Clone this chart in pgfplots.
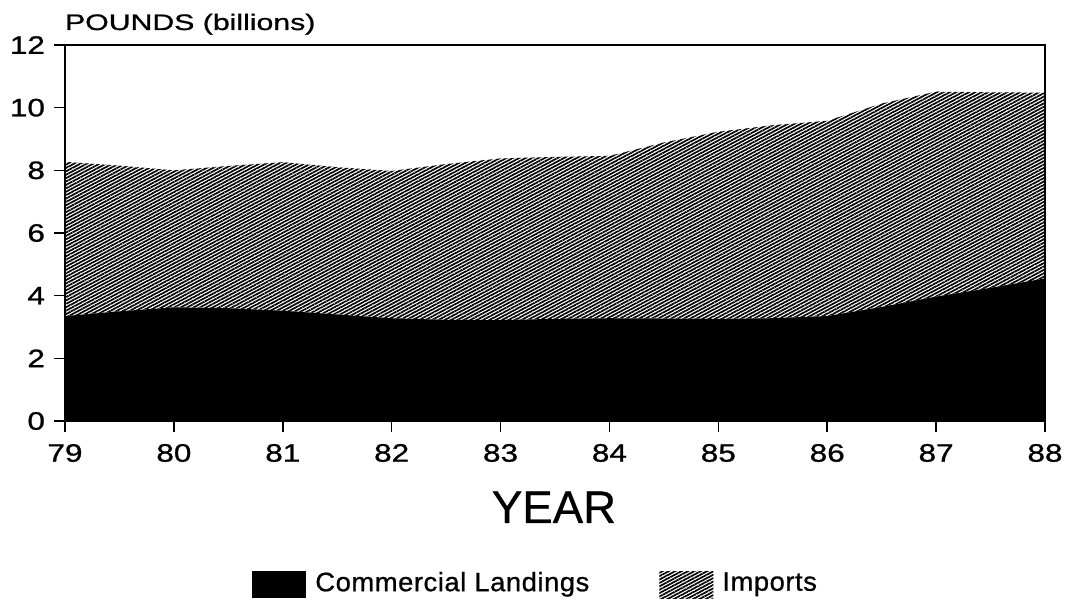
\documentclass[border=0pt]{standalone}
\usepackage{fontspec}
\setmainfont{Liberation Sans}
\newfontfamily\widefont{Liberation Sans}[FakeStretch=1.35, FakeBold=1]
\newfontfamily\tickfont{Liberation Sans}[FakeStretch=1.25, FakeBold=1]
\newfontfamily\legfont{Liberation Sans}[FakeStretch=1.03, FakeBold=0.8, LetterSpace=2]
\newfontfamily\titlefont{Liberation Sans}[FakeBold=0.6]
\usepackage{pgfplots}
\pgfplotsset{compat=1.18}
\usetikzlibrary{patterns.meta}

\pgfplotstableread{
year landings imports
79   3.35 4.92
79.5 3.50 4.65
80   3.63 4.37
80.5 3.60 4.54
81   3.52 4.74
81.5 3.40 4.70
82   3.28 4.70
82.5 3.23 4.97
83   3.22 5.16
83.5 3.26 5.17
84   3.28 5.18
84.5 3.27 5.62
85   3.26 5.97
85.5 3.28 6.16
86   3.35 6.23
86.5 3.64 6.49
87   3.97 6.54
87.5 4.25 6.24
88   4.55 5.93
}\datatable

\begin{document}
\begin{tikzpicture}
\useasboundingbox (-32.5pt,-91.5pt) rectangle (500.5pt,210.5pt);
\begin{axis}[
  at={(0,0)}, anchor=south west,
  scale only axis,
  width=490pt, height=188pt,
  xmin=79, xmax=88, ymin=0, ymax=12,
  xtick={79,80,...,88},
  ytick={0,2,...,12},
  tick pos=left,
  tick align=outside,
  major tick length=5.5pt,
  axis on top,
  axis line style={line width=0.8pt},
  every tick/.style={black, line width=0.8pt},
  /pgf/number format/assume math mode=true,
  ticklabel style={font=\fontsize{12.6}{15}\tickfont},
  xticklabel style={yshift=-2.5pt},
  yticklabel style={xshift=-1pt},
  stack plots=y,
  xlabel={YEAR},
  xlabel style={font=\fontsize{22.8}{26}\titlefont, at={(axis description cs:0.499,0)}, anchor=base, yshift=-51pt},
  ylabel={POUNDS (billions)},
  ylabel style={font=\fontsize{11.2}{13}\widefont, rotate=-90, at={(axis description cs:0,1)}, anchor=base west, xshift=-3.5pt, yshift=7.5pt},
  legend columns=2,
  legend style={at={(0.1908,-0.431)}, anchor=west, draw=none, fill=none,
    inner sep=0pt, font=\fontsize{13.3}{15}\legfont,
    /tikz/every even column/.append style={column sep=33pt}},
  legend image code/.code={\path[#1] (0pt,-7.5pt) rectangle (27pt,6pt); \path (29.5pt,0pt);},
]
\addplot[fill=black, draw=none] table[x=year, y=landings] {\datatable} \closedcycle;
\addlegendentry{Commercial Landings}
\addplot[draw=none, pattern={Lines[angle=28, distance=1.5pt, line width=0.85pt]}, pattern color=black] table[x=year, y=imports] {\datatable} \closedcycle;
\addlegendentry{Imports}
\end{axis}
\end{tikzpicture}
\end{document}
